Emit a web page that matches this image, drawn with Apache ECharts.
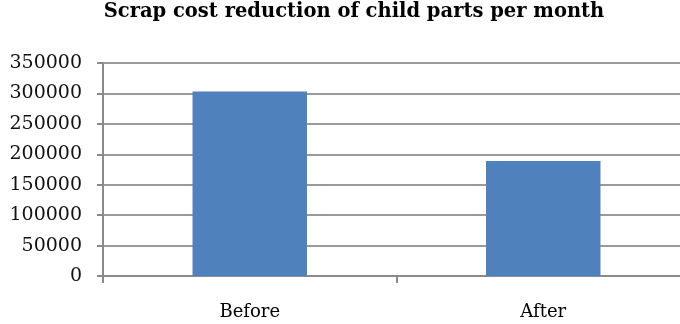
<!DOCTYPE html>
<html>
<head>
<meta charset="utf-8">
<script src="https://cdn.jsdelivr.net/npm/echarts@6/dist/echarts.min.js"></script>
<style>
  html, body { margin: 0; padding: 0; background: #fff; }
  #chart { width: 680px; height: 324px; }
</style>
</head>
<body>
<div id="chart"></div>
<script>
// Monthly scrap cost of child parts, before and after the improvement
const chartTitle = 'Scrap cost reduction of child parts per month';
const categories = ['Before', 'After'];
const scrapCost = [303000, 189000];
const yTicks = { min: 0, max: 350000, interval: 50000 };

const serif = '"DejaVu Serif", "Liberation Serif", serif';
const axisGray = '#8a8a8a';

const chart = echarts.init(document.getElementById('chart'), null, { renderer: 'canvas' });
chart.setOption({
  animation: false,
  backgroundColor: '#ffffff',
  title: {
    text: chartTitle,
    left: 349,
    textAlign: 'center',
    top: -3,
    textStyle: { fontFamily: serif, fontWeight: 'bold', fontSize: 19.5, color: '#000' }
  },
  // plot area runs a little past the right edge of the canvas
  grid: {
    left: 103, width: 587, top: 63, bottom: 48,
    containLabel: false, outerBoundsMode: 'none'
  },
  xAxis: {
    type: 'category',
    data: categories,
    axisLine: { show: true, lineStyle: { color: axisGray, width: 2 } },
    axisTick: { show: true, alignWithLabel: false, length: 7, lineStyle: { color: axisGray, width: 2 } },
    axisLabel: { margin: 27, fontFamily: serif, fontSize: 18, color: '#000' },
    splitLine: { show: false }
  },
  yAxis: {
    type: 'value',
    min: yTicks.min,
    max: yTicks.max,
    interval: yTicks.interval,
    axisLine: { show: true, lineStyle: { color: axisGray, width: 2 } },
    axisTick: { show: true, length: 6, lineStyle: { color: axisGray, width: 2 } },
    axisLabel: {
      margin: 21, fontFamily: serif, fontSize: 19, color: '#111',
      formatter: v => String(v)
    },
    splitLine: { show: true, lineStyle: { color: '#9a9a9a', width: 2 } }
  },
  series: [{
    type: 'bar',
    data: scrapCost,
    barWidth: '39%',
    itemStyle: { color: '#4f81bd' }
  }]
});
</script>
</body>
</html>
